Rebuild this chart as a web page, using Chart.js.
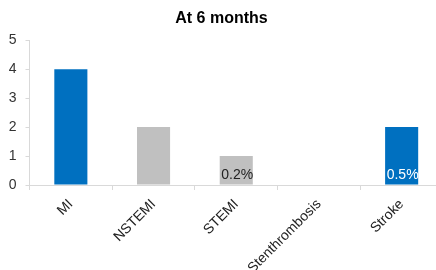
<!DOCTYPE html>
<html><head><meta charset="utf-8">
<script src="https://cdn.jsdelivr.net/npm/chart.js@4"></script>
<style>html,body{margin:0;padding:0;background:#fff;overflow:hidden;}#wrap{width:456px;height:270px;position:relative;}</style>
</head><body>
<div id="wrap"><canvas id="c" width="456" height="270"></canvas></div>
<script>
const categories = ['MI', 'NSTEMI', 'STEMI', 'Stenthrombosis', 'Stroke'];
const values = [4, 2, 1, 0, 2];
const barLabels = ['', '', '0.2%', '', '0.5%'];
const yTicks = [0, 1, 2, 3, 4, 5];
const titleText = 'At 6 months';

const BLUE = '#0070C0', GRAY = '#C0C0C0';
const colors = [BLUE, GRAY, GRAY, GRAY, BLUE];
const labelColors = ['#222', '#222', '#222', '#222', '#ffffff'];
const FONT = '"Liberation Sans", Arial, sans-serif';

const labelPlugin = {
  id: 'barLabels',
  afterDatasetsDraw(chart) {
    const ctx = chart.ctx;
    const meta = chart.getDatasetMeta(0);
    ctx.save();
    ctx.font = '14px ' + FONT;
    ctx.textAlign = 'center';
    ctx.textBaseline = 'alphabetic';
    meta.data.forEach((bar, i) => {
      if (!barLabels[i]) return;
      ctx.fillStyle = labelColors[i];
      ctx.fillText(barLabels[i], bar.x + 1, bar.base - 6);
    });
    ctx.restore();
  }
};

new Chart(document.getElementById('c'), {
  type: 'bar',
  data: { labels: categories, datasets: [{ data: values, backgroundColor: colors, barPercentage: 0.4, categoryPercentage: 1.0 }] },
  options: {
    responsive: false, animation: false, devicePixelRatio: 1,
    layout: { padding: { left: 0, right: 13, top: 0, bottom: 0 } },
    plugins: {
      legend: { display: false }, tooltip: { enabled: false },
      title: { display: true, text: titleText, color: '#000', font: { family: FONT, size: 16, weight: 'bold' }, padding: { top: 9, bottom: 12 } }
    },
    scales: {
      x: {
        afterFit(axis) { axis.height = 85; },
        grid: { display: true, drawOnChartArea: false, drawTicks: true, tickLength: 5, color: '#d9d9d9', offset: true },
        border: { color: '#d9d9d9' },
        ticks: { color: '#222', font: { family: FONT, size: 14 }, maxRotation: 45, minRotation: 45, padding: 6 }
      },
      y: {
        min: 0, max: 5,
        afterFit(axis) { axis.width = 29.5; },
        afterBuildTicks(axis) { axis.ticks = yTicks.map(v => ({ value: v })); },
        grid: { display: true, drawOnChartArea: false, drawTicks: true, tickLength: 4, color: '#d9d9d9' },
        border: { color: '#d9d9d9' },
        ticks: { color: '#333', font: { family: FONT, size: 14 }, padding: 9 }
      }
    }
  },
  plugins: [labelPlugin]
});
</script>
</body></html>
